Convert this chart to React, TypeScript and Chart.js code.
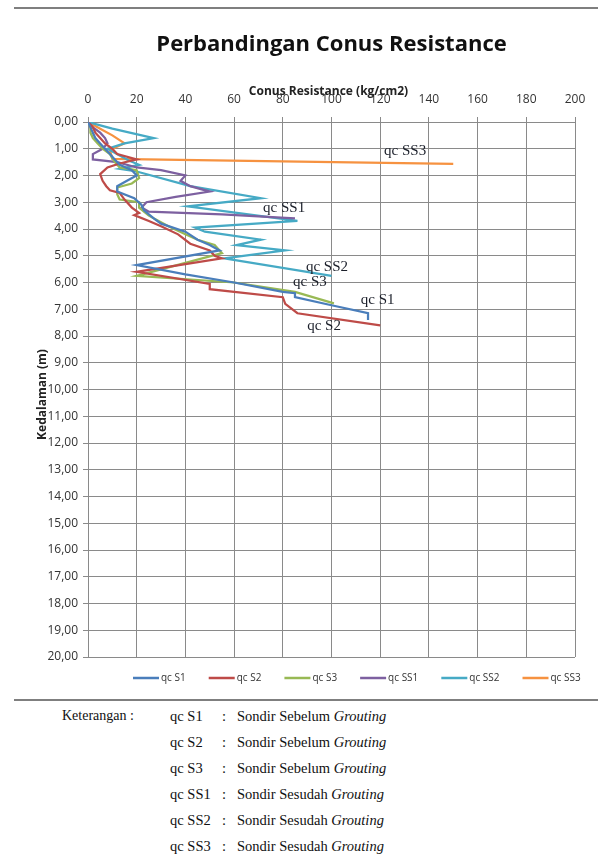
import React, { useEffect, useRef } from "react";
import { Chart, registerables } from "chart.js";

Chart.register(...registerables);

// ---------- data (qc in kg/cm2, depth in m) ----------
const SERIES_NAMES = ["qc S1", "qc S2", "qc S3", "qc SS1", "qc SS2", "qc SS3"];
const SERIES_COLORS = ["#4A7EBB", "#BE4B48", "#98B954", "#7D60A0", "#46AAC5", "#F69240"];

const S1_QC = [0, 1, 2, 3, 5, 7, 9, 11, 13, 18, 20, 16, 12, 12, 19, 22, 23, 27, 30, 40, 45, 50, 54, 20, 40, 60, 80, 85, 85, 100, 115, 115];
const S1_DEPTH = [0, 0.2, 0.4, 0.6, 0.8, 1.0, 1.2, 1.4, 1.6, 1.8, 2.0, 2.2, 2.4, 2.6, 2.85, 3.1, 3.3, 3.6, 3.8, 4.1, 4.4, 4.6, 4.8, 5.35, 5.7, 6.0, 6.35, 6.4, 6.55, 6.85, 7.15, 7.4];

const S2_QC = [0, 2, 3, 5, 7, 10, 12, 20, 13, 8, 5, 6, 7.5, 9, 13, 15, 18, 21, 19, 25, 30, 37, 42, 50, 52, 55, 20, 50, 50, 80, 81, 86, 120];
const S2_DEPTH = [0, 0.2, 0.4, 0.6, 0.8, 1.0, 1.2, 1.4, 1.55, 1.7, 1.95, 2.2, 2.4, 2.55, 2.65, 2.9, 3.2, 3.4, 3.48, 3.7, 3.9, 4.2, 4.55, 4.8, 5.0, 5.1, 5.6, 6.05, 6.25, 6.55, 6.8, 7.15, 7.6];

const S3_QC = [0, 1, 1, 2, 4, 6, 9, 11, 13, 20, 21, 18, 12, 12, 13, 21, 21, 25, 29, 33, 40, 45, 52, 55, 20, 60, 85, 101];
const S3_DEPTH = [0, 0.2, 0.4, 0.6, 0.8, 1.0, 1.2, 1.5, 1.7, 1.8, 2.1, 2.3, 2.45, 2.7, 2.9, 3.0, 3.2, 3.5, 3.7, 3.9, 4.2, 4.4, 4.6, 4.9, 5.75, 6.0, 6.35, 6.78];

const SS1_QC = [0, 2, 5, 7, 8, 6, 2, 2, 12, 20, 30, 40, 38, 42, 50, 36, 24, 22, 25, 55, 85];
const SS1_DEPTH = [0, 0.2, 0.4, 0.6, 0.8, 1.0, 1.2, 1.4, 1.5, 1.7, 1.8, 2.0, 2.2, 2.4, 2.6, 2.8, 3.0, 3.2, 3.35, 3.45, 3.6];

const SS2_QC = [0, 10, 27, 15, 8, 13, 17, 21, 13, 20, 42, 71, 41, 86, 44, 48, 71, 61, 81, 56, 100];
const SS2_DEPTH = [0, 0.25, 0.6, 0.8, 1.0, 1.25, 1.45, 1.6, 1.75, 1.85, 2.4, 2.85, 3.15, 3.7, 3.95, 4.1, 4.4, 4.6, 4.8, 5.1, 5.75];

const SS3_QC = [0, 5, 10, 15, 9, 10, 150];
const SS3_DEPTH = [0, 0.25, 0.5, 0.8, 1.05, 1.38, 1.57];

const SERIES_QC = [S1_QC, S2_QC, S3_QC, SS1_QC, SS2_QC, SS3_QC];
const SERIES_DEPTH = [S1_DEPTH, S2_DEPTH, S3_DEPTH, SS1_DEPTH, SS2_DEPTH, SS3_DEPTH];

// axis ranges
const X_MIN = 0, X_MAX = 200, X_STEP = 20;
const Y_MIN = 0, Y_MAX = 20, Y_STEP = 1;

// in-plot series labels (anchored in data units: qc, depth)
const NOTE_TEXT = ["qc SS3", "qc SS1", "qc SS2", "qc S3", "qc S1", "qc S2"];
const NOTE_QC = [121.6, 71.9, 89.5, 84.2, 112, 90];
const NOTE_DEPTH = [1.1, 3.2, 5.44, 6.0, 6.64, 7.64];

const TITLE = "Perbandingan Conus Resistance";
const X_TITLE = "Conus Resistance (kg/cm2)";
const Y_TITLE = "Kedalaman (m)";

const KET_CODES = ["qc S1", "qc S2", "qc S3", "qc SS1", "qc SS2", "qc SS3"];
const KET_DESC = ["Sondir Sebelum", "Sondir Sebelum", "Sondir Sebelum", "Sondir Sesudah", "Sondir Sesudah", "Sondir Sesudah"];

const GRID = "#8a8a8a";

const overlayPlugin = {
  id: "overlay",
  afterDatasetsDraw(chart: any) {
    const { ctx, chartArea, scales } = chart;
    const xs = scales.x, ys = scales.y;
    ctx.save();
    // chart title
    const cx = (chartArea.left + chartArea.right) / 2;
    ctx.fillStyle = "#111";
    ctx.textAlign = "center";
    ctx.textBaseline = "middle";
    ctx.font = "bold 22px 'Open Sans'";
    ctx.fillText(TITLE, cx, 45);
    // x axis title
    ctx.font = "bold 12px 'Open Sans'";
    ctx.fillStyle = "#222";
    ctx.fillText(X_TITLE, cx - 3, 92);
    // y axis title
    ctx.save();
    ctx.translate(43, (chartArea.top + chartArea.bottom) / 2 + 5);
    ctx.rotate(-Math.PI / 2);
    ctx.fillText(Y_TITLE, 0, 0);
    ctx.restore();
    // in-plot labels
    ctx.font = "15px 'Liberation Serif'";
    ctx.fillStyle = "#1b1f2a";
    ctx.textAlign = "left";
    NOTE_TEXT.forEach((t, i) => {
      ctx.fillText(t, xs.getPixelForValue(NOTE_QC[i]), ys.getPixelForValue(NOTE_DEPTH[i]));
    });
    // legend
    let lx = 133;
    const ly = 678;
    ctx.font = "10px 'Open Sans'";
    ctx.textBaseline = "middle";
    chart.data.datasets.forEach((ds: any) => {
      ctx.strokeStyle = ds.borderColor;
      ctx.lineWidth = 2.5;
      ctx.beginPath();
      ctx.moveTo(lx, ly);
      ctx.lineTo(lx + 26, ly);
      ctx.stroke();
      ctx.fillStyle = "#333";
      ctx.fillText(ds.label, lx + 28, ly);
      lx += 28 + ctx.measureText(ds.label).width + 23;
    });
    ctx.restore();
  },
};

export default function App() {
  const ref = useRef<HTMLCanvasElement | null>(null);

  useEffect(() => {
    if (!ref.current) return;
    const datasets = SERIES_NAMES.map((name, i) => ({
      label: name,
      data: SERIES_QC[i].map((v, j) => ({ x: v, y: SERIES_DEPTH[i][j] })),
      borderColor: SERIES_COLORS[i],
      backgroundColor: SERIES_COLORS[i],
      borderWidth: 2.25,
      pointRadius: 0,
      showLine: true,
      tension: 0,
      fill: false,
    }));
    const chart = new Chart(ref.current, {
      type: "scatter",
      data: { datasets },
      options: {
        animation: false,
        responsive: false,
        devicePixelRatio: 1,
        layout: { padding: { left: 0, right: 23, top: 92, bottom: 43 } },
        plugins: { legend: { display: false }, tooltip: { enabled: false }, title: { display: false } },
        scales: {
          x: {
            type: "linear",
            position: "top",
            min: X_MIN,
            max: X_MAX,
            afterFit: (s: any) => { s.height = 30; },
            ticks: { stepSize: X_STEP, padding: 10, color: "#333", font: { family: "'Open Sans'", size: 12 } },
            grid: { color: GRID, lineWidth: 1, tickLength: 5, drawTicks: true },
            border: { color: GRID, width: 1 },
          },
          y: {
            type: "linear",
            reverse: true,
            min: Y_MIN,
            max: Y_MAX,
            afterFit: (s: any) => { s.width = 88; },
            ticks: {
              stepSize: Y_STEP,
              padding: 5,
              color: "#333",
              font: { family: "'Open Sans'", size: 12 },
              callback: (v: any) => Number(v).toFixed(2).replace(".", ","),
            },
            grid: { color: GRID, lineWidth: 1, tickLength: 5, drawTicks: true },
            border: { color: GRID, width: 1 },
          },
        },
      },
      plugins: [overlayPlugin],
    });
    return () => chart.destroy();
  }, []);

  const serif = "'Liberation Serif', 'Times New Roman', serif";
  return (
    <div style={{ position: "absolute", left: 0, top: 0, width: 598, height: 854, background: "#fff", overflow: "hidden" }}>
      <div style={{ position: "absolute", left: 14, top: 7, width: 584, height: 2, background: "#7f7f7f" }} />
      <canvas ref={ref} width={598} height={700} style={{ position: "absolute", left: 0, top: 0, width: 598, height: 700 }} />
      <div style={{ position: "absolute", left: 14, top: 699, width: 584, height: 2, background: "#7f7f7f" }} />
      <div style={{ position: "absolute", left: 62, top: 707, fontFamily: serif, fontSize: 14, color: "#111", lineHeight: "18px" }}>
        Keterangan :
      </div>
      {KET_CODES.map((c, i) => (
        <div key={c} style={{ position: "absolute", top: 707 + i * 26, left: 0, fontFamily: serif, fontSize: 14.5, color: "#111", lineHeight: "18px", whiteSpace: "nowrap" }}>
          <span style={{ position: "absolute", left: 170 }}>{c}</span>
          <span style={{ position: "absolute", left: 222 }}>:</span>
          <span style={{ position: "absolute", left: 237 }}>
            {KET_DESC[i]} <i>Grouting</i>
          </span>
        </div>
      ))}
    </div>
  );
}
